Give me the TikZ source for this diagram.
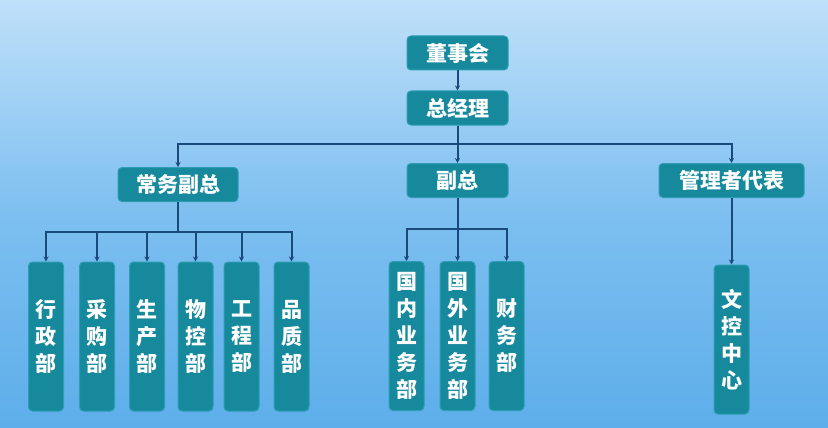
\documentclass[tikz,border=0pt]{standalone}
\usepackage{fontspec}
\newfontfamily\cjk{Noto Sans CJK SC}
\usepackage{xcolor}
\usetikzlibrary{arrows.meta}
\definecolor{bgtop}{HTML}{BFE0F9}
\definecolor{bgmid}{HTML}{7DBFF0}
\definecolor{bgbot}{HTML}{5DAEEA}
\definecolor{boxfill}{HTML}{16899D}
\definecolor{boxline}{HTML}{2C9DB2}
\definecolor{linkcol}{HTML}{1A4A7C}
\tikzset{
  unit/.style={draw=boxline, line width=1pt, fill=boxfill, rounded corners=4pt,
    text=white, font=\cjk\bfseries\fontsize{21}{27}\selectfont, inner sep=0pt},
  hbox/.style={unit, minimum width=101pt, minimum height=34pt},
  vbox/.style={unit, minimum width=35pt, minimum height=149pt, align=center},
  arr/.style={draw=linkcol, line width=2pt, -{Stealth[length=5pt,width=5pt]}}
}
\begin{document}
\begin{tikzpicture}[x=1pt,y=-1pt]
    \shade[top color=bgtop, bottom color=bgbot, middle color=bgmid] (0,0) rectangle (828,428);
    \useasboundingbox (0,0) rectangle (828,428);
    % top of the chart
    \node[hbox] (dsh) at (457.5,53) {董事会};
    \node[hbox] (zjl) at (457.5,108) {总经理};
    \node[hbox, minimum width=120pt] (cw) at (178,184.5) {常务副总};
    \node[hbox] (fz) at (457.5,180.5) {副总};
    \node[hbox, minimum width=145pt] (gl) at (731.5,180.5) {管理者代表};
    % departments
    \node[vbox] (xz) at (46,336.5) {行\\政\\部};
    \node[vbox] (cg) at (97,336.5) {采\\购\\部};
    \node[vbox] (sc) at (147,336.5) {生\\产\\部};
    \node[vbox] (wk) at (195.5,336.5) {物\\控\\部};
    \node[vbox] (gc) at (241.5,336.5) {工\\程\\部};
    \node[vbox] (pz) at (291.5,336.5) {品\\质\\部};
    \node[vbox] (gn) at (406.5,336) {国\\内\\业\\务\\部};
    \node[vbox] (gw) at (457.5,336) {国\\外\\业\\务\\部};
    \node[vbox] (cwb) at (506.5,336) {财\\务\\部};
    \node[vbox] (wkz) at (731.5,339.5) {文\\控\\中\\心};
    % connectors
    \draw[arr] (dsh) -- (zjl);
    \draw[arr] (zjl) -- (fz);
    \draw[arr] (zjl.south) -- (zjl.south |- 0,144) -| (cw.north);
    \draw[arr] (zjl.south) -- (zjl.south |- 0,144) -| (gl.north);
    \foreach \d in {xz,cg,sc,wk,gc,pz}
        \draw[arr] (cw.south) -- (cw.south |- 0,232) -| (\d.north);
    \foreach \d in {gn,gw,cwb}
        \draw[arr] (fz.south) -- (fz.south |- 0,229) -| (\d.north);
    \draw[arr] (gl) -- (wkz);
\end{tikzpicture}
\end{document}
